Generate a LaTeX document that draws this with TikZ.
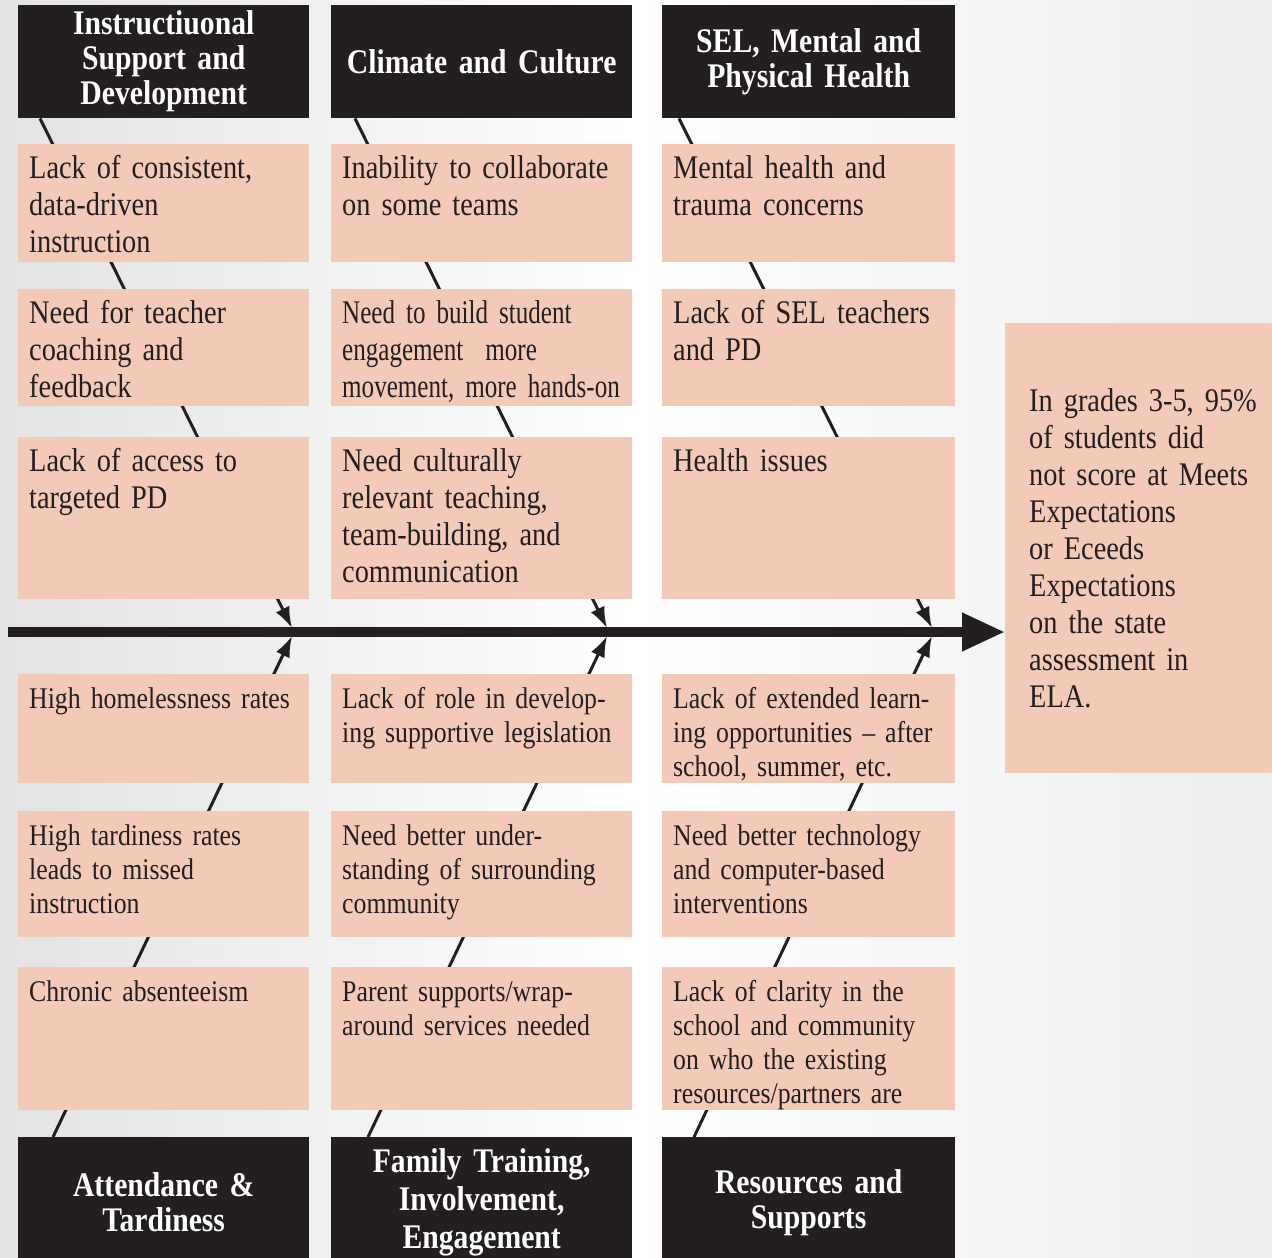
\documentclass[tikz,border=0pt]{standalone}
\usepackage{fontspec}
\setmainfont[FakeStretch=0.86,WordSpace=0.72]{Liberation Serif}
\newfontfamily\narrowfont[FakeStretch=0.76,WordSpace=0.6]{Liberation Serif}
\usetikzlibrary{arrows.meta}
\definecolor{salmon}{HTML}{F3CAB8}
\definecolor{ink}{HTML}{231F20}
\pgfdeclarelayer{paper}
\pgfdeclarelayer{ribs}
\pgfsetlayers{paper,ribs,main}

\begin{document}
\begin{tikzpicture}[x=1pt,y=-1pt,
		cause/.style 2 args={fill=salmon,text=ink,anchor=north west,inner xsep=11pt,inner ysep=10pt,
			align=left,text width=#1pt-22pt,text height=24pt,text depth=#2pt-44pt,
			font=\fontsize{33}{37}\selectfont},
		low/.style={font=\fontsize{30}{34}\selectfont},
		head/.style 2 args={fill=ink,text=white,anchor=north west,inner sep=0pt,align=center,
			text width=#1pt-20pt,minimum width=#1pt,minimum height=#2pt,
			font=\bfseries\fontsize{34.5}{35}\selectfont},
		result/.style={fill=salmon,text=ink,anchor=north west,inner xsep=24pt,text width=260pt,
			minimum height=450pt,align=left,font=\fontsize{33}{37}\selectfont},
		rib/.style={draw=ink,line width=3pt,-{Latex[length=21pt,width=15pt]}},
		spine/.style={draw=ink,line width=10pt,-{Triangle[length=43pt,width=36pt]}}]
		\useasboundingbox (0,0) rectangle (1272,1258);
		\begin{pgfonlayer}{paper}
			\shade[left color=black!11,right color=white] (0,0) rectangle (636,1258);
			\shade[left color=white,right color=black!7] (636,0) rectangle (1272,1258);
		\end{pgfonlayer}

		\node[head={291}{113}] (hi) at (18,5) {Instructiuonal\\Support and\\Development};
		\node[head={301}{113}] (hc) at (331,5) {Climate and Culture};
		\node[head={293}{113}] (hs) at (662,5) {SEL, Mental and\\Physical Health};

		\node[cause={291}{118}] (i1) at (18,144) {Lack of consistent,\\data-driven\\instruction};
		\node[cause={291}{117}] (i2) at (18,289) {Need for teacher\\coaching and\\feedback};
		\node[cause={291}{162}] (i3) at (18,437) {Lack of access to\\targeted PD};
		\node[cause={301}{118}] (c1) at (331,144) {Inability to collaborate\\on some teams};
		\node[cause={301}{117},font=\narrowfont\fontsize{33}{37}\selectfont] (c2) at (331,289) {Need to build student\\engagement~ more\\movement, more hands-on};
		\node[cause={301}{162}] (c3) at (331,437) {Need culturally\\relevant teaching,\\team-building, and\\communication};
		\node[cause={293}{118}] (s1) at (662,144) {Mental health and\\trauma concerns};
		\node[cause={293}{117}] (s2) at (662,289) {Lack of SEL teachers\\and PD};
		\node[cause={293}{162}] (s3) at (662,437) {Health issues};

		\node[cause={291}{109},low] (a1) at (18,674) {High homelessness rates};
		\node[cause={291}{126},low] (a2) at (18,811) {High tardiness rates\\leads to missed\\instruction};
		\node[cause={291}{143},low] (a3) at (18,967) {Chronic absenteeism};
		\node[cause={301}{109},low] (f1) at (331,674) {Lack of role in develop-\\ing supportive legislation};
		\node[cause={301}{126},low] (f2) at (331,811) {Need better under-\\standing of surrounding\\community};
		\node[cause={301}{143},low] (f3) at (331,967) {Parent supports/wrap-\\around services needed};
		\node[cause={293}{109},low] (r1) at (662,674) {Lack of extended learn-\\ing opportunities -- after\\school, summer, etc.};
		\node[cause={293}{126},low] (r2) at (662,811) {Need better technology\\and computer-based\\interventions};
		\node[cause={293}{143},low] (r3) at (662,967) {Lack of clarity in the\\school and community\\on who the existing\\resources/partners are};

		\node[head={291}{130}] (ha) at (18,1137) {Attendance \&\\Tardiness};
		\node[head={301}{130},font=\bfseries\fontsize{34.5}{38}\selectfont] (hf) at (331,1137) {Family Training,\\Involvement,\\Engagement};
		\node[head={293}{130}] (hr) at (662,1137) {Resources and\\Supports};

		\node[result] (res) at (1005,323) {In grades 3-5, 95\%\\of students did\\not score at Meets\\Expectations\\or Eceeds\\Expectations\\on the state\\assessment in\\ELA.};

		\coordinate (tail) at (8,632);
		\coordinate (t1) at (292,632);
		\coordinate (t2) at (607,632);
		\coordinate (t3) at (932,632);
		\draw[spine] (tail) -- (tail -| res.west);

		\begin{pgfonlayer}{ribs}
			\draw[rib] ([xshift=22pt]hi.south west) -- ([yshift=4pt]t1);
			\draw[rib] ([xshift=24pt]hc.south west) -- ([yshift=4pt]t2);
			\draw[rib] ([xshift=17pt]hs.south west) -- ([yshift=4pt]t3);
			\draw[rib] ([xshift=35pt]ha.north west) -- ([yshift=-4pt]t1);
			\draw[rib] ([xshift=37pt]hf.north west) -- ([yshift=-4pt]t2);
			\draw[rib] ([xshift=32pt]hr.north west) -- ([yshift=-4pt]t3);
		\end{pgfonlayer}
	\end{tikzpicture}
\end{document}
